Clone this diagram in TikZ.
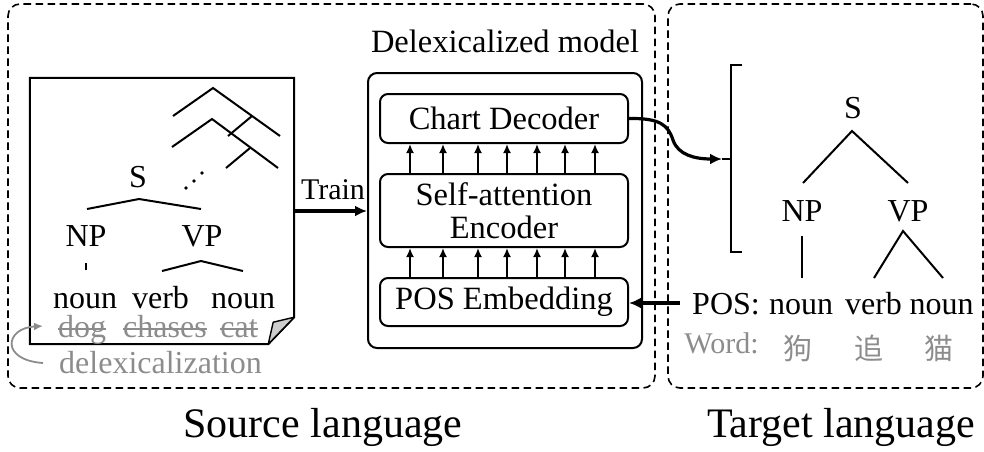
\documentclass[tikz,border=0pt]{standalone}
\usepackage{fontspec}
\setmainfont{Liberation Serif}
\newfontfamily\cjkfont{Noto Sans CJK SC}
\usetikzlibrary{arrows.meta,calc}
\definecolor{wordgray}{RGB}{140,140,140}
\definecolor{foldgray}{RGB}{205,205,205}
\tikzset{
  txt/.style={font=\fontsize{32}{32}\selectfont, inner sep=0pt},
  small/.style={font=\fontsize{30}{30}\selectfont, inner sep=0pt},
  big/.style={font=\fontsize{42}{42}\selectfont, inner sep=0pt},
  grayword/.style={txt, text=wordgray},
  cjk/.style={font=\cjkfont\fontsize{29}{29}\selectfont, inner sep=0pt, text=wordgray},
  layer/.style={draw, line width=2pt, rounded corners=8pt, minimum width=248pt,
                inner sep=0pt, align=center, font=\fontsize{32.5}{32.5}\selectfont},
  region/.style={draw, line width=1.6pt, dash pattern=on 7.5pt off 4.5pt,
                 rounded corners=12pt, inner sep=0pt},
  tree/.style={line width=2pt},
  smallarrow/.style={line width=1.8pt, -{Latex[length=9pt,width=8pt]}},
  bigarrow/.style={line width=3.2pt, -{Latex[length=12pt,width=11pt]}},
  strike/.style={line width=1.8pt, wordgray}
}
\begin{document}
\begin{tikzpicture}[x=1pt,y=-1pt]
\useasboundingbox (0,0) rectangle (984,451);

% dashed regions
\node[region, minimum width=647pt, minimum height=384pt] (src) at (331.5,196) {};
\node[region, minimum width=315pt, minimum height=384pt] (tgt) at (825.5,196) {};
\node[big, anchor=base] (srclab) at (323,437) {Source language};
\node[big, anchor=base] (tgtlab) at (841,437) {Target language};

% source treebank sheet with folded corner
\node[minimum width=264pt, minimum height=266pt, inner sep=0pt] (doc) at (162,211) {};
\draw[line width=2pt, line join=miter]
  (doc.north west) -- (doc.north east) -- ([yshift=27pt]doc.south east)
  -- ([xshift=-26pt]doc.south east) -- (doc.south west) -- cycle;
\draw[line width=1.4pt, fill=foldgray, line join=round]
  ([yshift=27pt]doc.south east) -- ([xshift=-21pt,yshift=22pt]doc.south east)
  -- ([xshift=-26pt]doc.south east) -- cycle;

% stacked trees in the sheet
\draw[tree] (173,116) -- (213,88) -- (280,136);
\draw[tree] (252,116) -- (228,136);
\draw[tree] (172,147) -- (212,119) -- (278,168);
\draw[tree] (250,148) -- (226,168);
\fill (186,188) circle (1.9pt) (194,181) circle (1.9pt) (202,173) circle (1.9pt);

% source parse
\node[txt, anchor=base] (s1) at (138,187) {S};
\node[txt, anchor=base] (np1) at (86,246) {NP};
\node[txt, anchor=base] (vp1) at (202,246) {VP};
\draw[tree] (87,209) -- (139,199) -- (201,209);
\draw[tree] (86,263) -- (86,270);
\draw[tree] (162,271) -- (201,261) -- (243,271);
\node[txt, anchor=base] (n1) at (85,308) {noun};
\node[txt, anchor=base] (v1) at (160.5,308) {verb};
\node[txt, anchor=base] (n2) at (243,308) {noun};

% original words, struck out
\node[grayword, anchor=base] (w1) at (82,337) {dog};
\node[grayword, anchor=base] (w2) at (165,337) {chases};
\node[grayword, anchor=base] (w3) at (239,337) {cat};
\foreach \w in {w1,w2,w3}
  \draw[strike] ([yshift=8pt]\w.base west) -- ([yshift=8pt]\w.base east);
\node[grayword, anchor=base] (delex) at (160.5,373) {delexicalization};
\coordinate (dtail) at (43,363);
\coordinate (dhead) at (43,326);
\draw[line width=1.8pt, wordgray, -{Latex[length=9pt,width=8pt]}]
  (dtail) .. controls (0,360) and (5,328) .. (dhead);

% delexicalized model
\node[anchor=base, txt, font=\fontsize{32.5}{32.5}\selectfont] (mlab) at (505,52) {Delexicalized model};
\node[draw, line width=2pt, rounded corners=9pt, minimum width=274pt,
      minimum height=275pt, inner sep=0pt] (model) at (505,210.5) {};
\node[layer, minimum height=49pt] (dec) at (504,118.5) {Chart Decoder};
\node[layer, minimum height=73pt] (enc) at (504,210.5) {Self-attention\\Encoder};
\node[layer, minimum height=48pt] (pos) at (504,302) {POS Embedding};
\foreach \d in {-94,-61,-26,3,33,61,91} {
  \draw[smallarrow] ([xshift=\d pt]enc.north) -- ([xshift=\d pt]dec.south);
  \draw[smallarrow] ([xshift=\d pt]pos.north) -- ([xshift=\d pt]enc.south);
}

% training arrow
\draw[bigarrow] (doc.east) -- (model.west |- doc.east);
\node[small, anchor=base] (train) at (333,199) {Train};

% output bracket
\coordinate (bt) at (731,65);
\coordinate (bb) at (731,252);
\coordinate (bm) at (731,159);
\coordinate (btip) at (722,159);
\draw[line width=2pt] ([xshift=11pt]bt) -- (bt) -- (bb) -- ([xshift=11pt]bb);
\draw[line width=2pt] (btip) -- (bm);
\draw[bigarrow] (dec.east) .. controls (660,118) and (668,125) .. (673,140)
  .. controls (678,155) and (695,159) .. (btip);

% target parse
\node[txt, anchor=base] (s2) at (853,118) {S};
\node[txt, anchor=base] (np2) at (802,221) {NP};
\node[txt, anchor=base] (vp2) at (908,221) {VP};
\draw[tree] (803,183) -- (852,131) -- (908,183);
\draw[tree] (802,236) -- (802,278);
\draw[tree] (874,278) -- (903,231) -- (943,278);
\node[txt, anchor=base] (posl) at (726,314) {POS:};
\node[txt, anchor=base] (n3) at (801,314) {noun};
\node[txt, anchor=base] (v3) at (873.5,314) {verb};
\node[txt, anchor=base] (n4) at (941.5,314) {noun};
\node[small, anchor=base, text=wordgray] (wordl) at (721.5,353) {Word:};
\node[cjk, anchor=base] (c1) at (798,359) {狗};
\node[cjk, anchor=base] (c2) at (869,359) {追};
\node[cjk, anchor=base] (c3) at (939,359) {猫};

% POS input arrow
\coordinate (posin) at (680,303);
\draw[bigarrow] (posin) -- (pos.east |- posin);
\end{tikzpicture}
\end{document}
